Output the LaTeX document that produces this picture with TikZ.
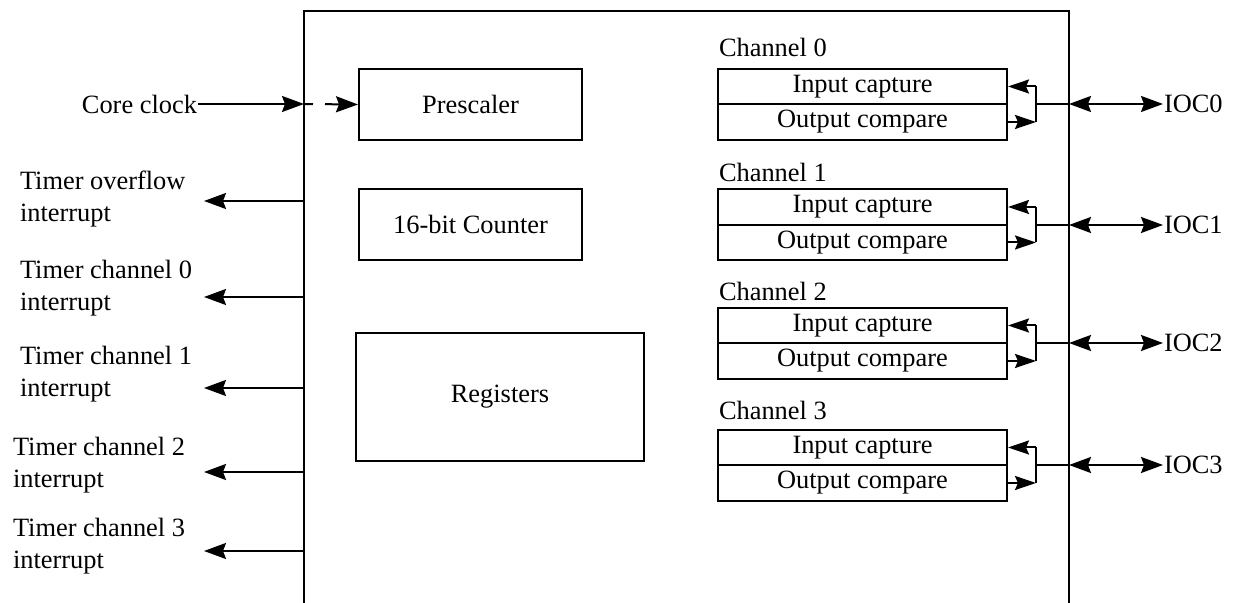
\documentclass[tikz,border=0pt]{standalone}
\usepackage{fontspec}
\setmainfont{Liberation Serif}
\usetikzlibrary{arrows.meta}

\begin{document}
\begin{tikzpicture}[
  x=0.5pt,
  y=-0.5pt,
  line width=1pt,
  txt/.style={inner sep=0pt, font=\fontsize{13.2}{16}\selectfont},
  block/.style={draw=black, inner sep=1pt, font=\fontsize{13.2}{16}\selectfont},
  half/.style={draw=black, minimum width=144.5pt, minimum height=17.75pt, inner sep=0pt, font=\fontsize{13.2}{16}\selectfont},
  sig/.style={-{Stealth[length=11pt, width=8pt, inset=1.5pt]}},
  bidir/.style={{Stealth[length=11pt, width=8pt, inset=1.5pt]}-{Stealth[length=11pt, width=8pt, inset=1.5pt]}},
  small/.style={-{Stealth[length=10.5pt, width=7pt, inset=1.5pt]}}
]
\useasboundingbox (0,0) rectangle (1239,603);

% timer module outline, open at the bottom
\coordinate (bl) at (304,603);
\coordinate (tl) at (304,11);
\coordinate (tr) at (1069,11);
\coordinate (br) at (1069,603);
\draw (bl) -- (tl) -- (tr) -- (br);

% inner blocks
\node[block, minimum width=111.5pt, minimum height=35.5pt] (pre) at (470.5,104.5) {Prescaler};
\node[block, minimum width=111.5pt, minimum height=35.5pt] (cnt) at (470.5,224.5) {16-bit Counter};
\node[block, minimum width=144pt, minimum height=64pt] (regs) at (500,397) {Registers};

% clock input
\node[txt, anchor=east] (clk) at (198,104) {Core clock};
\coordinate (clkin) at (304,104);
\draw[sig] (clk.east) -- (clkin);
\draw[sig, dash pattern=on 4.5pt off 6pt on 30pt] (clkin) -- (pre.west);

% interrupt outputs
\node[txt, align=left, anchor=west] (ovf) at (19,199) {Timer overflow\\interrupt};
\node[txt, align=left, anchor=west] (int0) at (19,288) {Timer channel 0\\interrupt};
\node[txt, align=left, anchor=west] (int1) at (19,374) {Timer channel 1\\interrupt};
\node[txt, align=left, anchor=west] (int2) at (12,465) {Timer channel 2\\interrupt};
\node[txt, align=left, anchor=west] (int3) at (12,546) {Timer channel 3\\interrupt};

\coordinate (ovfs) at (304,201);
\coordinate (ovft) at (204,201);
\coordinate (int0s) at (304,297);
\coordinate (int0t) at (204,297);
\coordinate (int1s) at (304,388);
\coordinate (int1t) at (204,388);
\coordinate (int2s) at (304,472);
\coordinate (int2t) at (204,472);
\coordinate (int3s) at (304,551);
\coordinate (int3t) at (204,551);
\draw[sig] (ovfs) -- (ovft);
\draw[sig] (int0s) -- (int0t);
\draw[sig] (int1s) -- (int1t);
\draw[sig] (int2s) -- (int2t);
\draw[sig] (int3s) -- (int3t);

% channel 0
\node[txt, anchor=west] (ch0) at (718,47) {Channel 0};
\node[half] (ic0) at (862.5,86.5) {Input capture};
\node[half] (oc0) at (862.5,122) {Output compare};
\coordinate (j0) at (1036,104);
\coordinate (e0) at (1069,104);
\node[txt, anchor=west] (ioc0) at (1163,104) {IOC0};
\draw[small] (ic0.east -| j0) -- (ic0.east);
\draw (ic0.east -| j0) -- (oc0.east -| j0);
\draw[small] (oc0.east) -- (oc0.east -| j0);
\draw (j0) -- (e0);
\draw[bidir] (e0) -- (ioc0.west);

% channel 1
\node[txt, anchor=west] (ch1) at (718,172) {Channel 1};
\node[half] (ic1) at (862.5,207) {Input capture};
\node[half] (oc1) at (862.5,242.5) {Output compare};
\coordinate (j1) at (1036,225);
\coordinate (e1) at (1069,225);
\node[txt, anchor=west] (ioc1) at (1163,225) {IOC1};
\draw[small] (ic1.east -| j1) -- (ic1.east);
\draw (ic1.east -| j1) -- (oc1.east -| j1);
\draw[small] (oc1.east) -- (oc1.east -| j1);
\draw (j1) -- (e1);
\draw[bidir] (e1) -- (ioc1.west);

% channel 2
\node[txt, anchor=west] (ch2) at (718,291) {Channel 2};
\node[half] (ic2) at (862.5,325.5) {Input capture};
\node[half] (oc2) at (862.5,361) {Output compare};
\coordinate (j2) at (1036,343);
\coordinate (e2) at (1069,343);
\node[txt, anchor=west] (ioc2) at (1163,343) {IOC2};
\draw[small] (ic2.east -| j2) -- (ic2.east);
\draw (ic2.east -| j2) -- (oc2.east -| j2);
\draw[small] (oc2.east) -- (oc2.east -| j2);
\draw (j2) -- (e2);
\draw[bidir] (e2) -- (ioc2.west);

% channel 3
\node[txt, anchor=west] (ch3) at (718,410) {Channel 3};
\node[half] (ic3) at (862.5,447.5) {Input capture};
\node[half] (oc3) at (862.5,483) {Output compare};
\coordinate (j3) at (1036,465);
\coordinate (e3) at (1069,465);
\node[txt, anchor=west] (ioc3) at (1163,465) {IOC3};
\draw[small] (ic3.east -| j3) -- (ic3.east);
\draw (ic3.east -| j3) -- (oc3.east -| j3);
\draw[small] (oc3.east) -- (oc3.east -| j3);
\draw (j3) -- (e3);
\draw[bidir] (e3) -- (ioc3.west);
\end{tikzpicture}
\end{document}
